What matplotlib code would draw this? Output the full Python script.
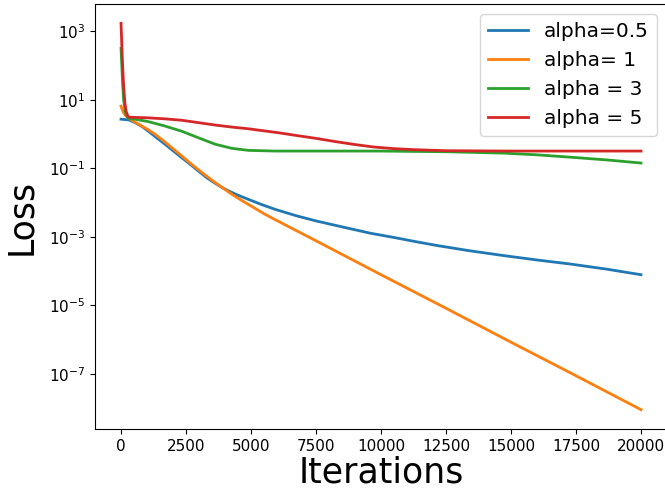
import numpy as np
import matplotlib
matplotlib.use("Agg")
import matplotlib.pyplot as plt
from matplotlib.ticker import NullLocator

# Loss curves, stored as log10(loss)
it_05 = [0, 300, 540, 800, 1050, 1350, 1690, 2000, 2330, 2650, 2970, 3300, 3620,
         3900, 4130, 4500, 4900, 5400, 5920, 6700, 7500, 8600, 9600, 10550,
         11300, 12170, 13400, 14700, 16000, 17300, 18700, 20000]
log_05 = [0.43, 0.41, 0.33, 0.22, 0.08, -0.10, -0.30, -0.49, -0.69, -0.88, -1.08,
          -1.28, -1.44, -1.57, -1.66, -1.79, -1.91, -2.06, -2.20, -2.38, -2.54,
          -2.73, -2.90, -3.03, -3.14, -3.26, -3.41, -3.55, -3.68, -3.80, -3.95, -4.11]

it_1 = [0, 50, 100, 180, 280, 500, 800, 1050, 1310, 1650, 1950, 2300, 2720, 3150,
        3620, 4260, 4700, 5150, 5500, 5920, 7500, 10000, 12500, 15000, 17500, 20000]
log_1 = [0.81, 0.70, 0.62, 0.53, 0.47, 0.36, 0.23, 0.12, -0.01, -0.21, -0.40, -0.62,
         -0.89, -1.15, -1.42, -1.76, -1.97, -2.17, -2.33, -2.50, -3.12, -4.11,
         -5.09, -6.08, -7.06, -8.05]

it_3 = [0, 30, 60, 100, 150, 200, 300, 540, 1050, 1690, 2330, 2970, 3620, 4260,
        4900, 5920, 8000, 10000, 12500, 14700, 16000, 17300, 18700, 20000]
log_3 = [2.5, 2.0, 1.5, 1.0, 0.7, 0.55, 0.45, 0.43, 0.36, 0.23, 0.08, -0.11, -0.30,
         -0.42, -0.48, -0.50, -0.50, -0.50, -0.52, -0.56, -0.61, -0.68, -0.76, -0.85]

it_5 = [0, 30, 60, 100, 150, 200, 280, 1050, 1690, 2330, 2970, 3620, 4260, 4900,
        5500, 6100, 6700, 7500, 8300, 9000, 9700, 10500, 11300, 12500, 15000, 20000]
log_5 = [3.23, 2.6, 2.0, 1.4, 0.9, 0.65, 0.49, 0.47, 0.44, 0.40, 0.33, 0.26, 0.20,
         0.15, 0.09, 0.03, -0.04, -0.13, -0.23, -0.31, -0.38, -0.43, -0.46, -0.49,
         -0.50, -0.50]

fig = plt.figure(figsize=(6.65, 4.91), dpi=100)
ax = fig.add_axes([0.1429, 0.1263, 0.8601, 0.8656])

ax.plot(it_05, 10 ** np.array(log_05), lw=2, label="alpha=0.5")
ax.plot(it_1, 10 ** np.array(log_1), lw=2, label="alpha= 1")
ax.plot(it_3, 10 ** np.array(log_3), lw=2, label="alpha = 3")
ax.plot(it_5, 10 ** np.array(log_5), lw=2, label="alpha = 5")

ax.set_yscale("log")
ax.yaxis.set_minor_locator(NullLocator())
ax.tick_params(labelsize=11)

ax.set_xlabel("Iterations", fontsize=25, labelpad=1)
ax.set_ylabel("Loss", fontsize=25, labelpad=8)
ax.legend(loc="upper right", fontsize=14.5)

fig.savefig("out.png", dpi=100)
